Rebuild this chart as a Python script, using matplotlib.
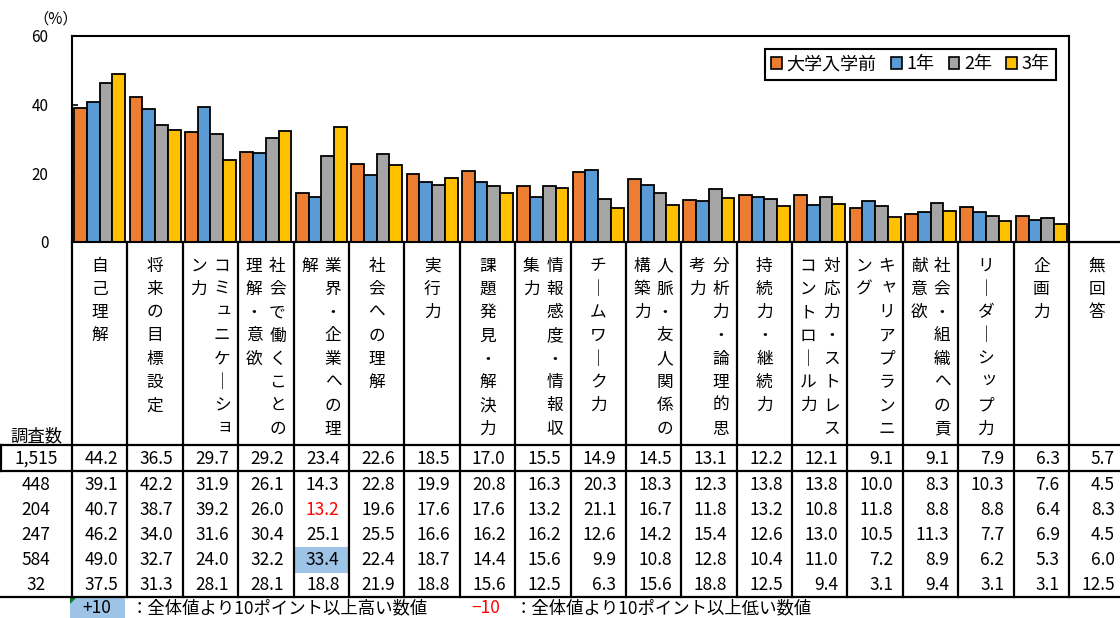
import matplotlib

matplotlib.use("Agg")
import matplotlib.pyplot as plt
import numpy as np
from matplotlib.patches import Patch, Rectangle
from matplotlib.transforms import blended_transform_factory

# category labels (the last one, 無回答, only appears in the table)
categories = [
    "自己理解", "将来の目標設定", "コミュニケーション力", "社会で働くことの理解・意欲",
    "業界・企業への理解", "社会への理解", "実行力", "課題発見・解決力",
    "情報感度・情報収集力", "チームワーク力", "人脈・友人関係の構築力",
    "分析力・論理的思考力", "持続力・継続力", "対応力・ストレスコントロール力",
    "キャリアプランニング", "社会・組織への貢献意欲", "リーダーシップ力", "企画力", "無回答",
]
series_names = ["大学入学前", "1年", "2年", "3年"]
counts = ["1,515", "448", "204", "247", "584", "32"]

total = [44.2, 36.5, 29.7, 29.2, 23.4, 22.6, 18.5, 17.0, 15.5, 14.9, 14.5, 13.1, 12.2, 12.1, 9.1, 9.1, 7.9, 6.3, 5.7]
pre = [39.1, 42.2, 31.9, 26.1, 14.3, 22.8, 19.9, 20.8, 16.3, 20.3, 18.3, 12.3, 13.8, 13.8, 10.0, 8.3, 10.3, 7.6, 4.5]
year1 = [40.7, 38.7, 39.2, 26.0, 13.2, 19.6, 17.6, 17.6, 13.2, 21.1, 16.7, 11.8, 13.2, 10.8, 11.8, 8.8, 8.8, 6.4, 8.3]
year2 = [46.2, 34.0, 31.6, 30.4, 25.1, 25.5, 16.6, 16.2, 16.2, 12.6, 14.2, 15.4, 12.6, 13.0, 10.5, 11.3, 7.7, 6.9, 4.5]
year3 = [49.0, 32.7, 24.0, 32.2, 33.4, 22.4, 18.7, 14.4, 15.6, 9.9, 10.8, 12.8, 10.4, 11.0, 7.2, 8.9, 6.2, 5.3, 6.0]
other = [37.5, 31.3, 28.1, 28.1, 18.8, 21.9, 18.8, 15.6, 12.5, 6.3, 15.6, 18.8, 12.5, 9.4, 3.1, 9.4, 3.1, 3.1, 12.5]

colors = ["#ED7D31", "#5B9BD5", "#A5A5A5", "#FFC000"]
hi_blue = "#9DC3E6"

plt.rcParams["font.family"] = ["Noto Sans CJK JP", "DejaVu Sans"]

W, H = 1120, 618
fig = plt.figure(figsize=(W / 100, H / 100), dpi=100)
ax = fig.add_axes([72 / W, 1 - 242 / H, 997 / W, 206 / H])

n_plot = 18
series = [pre, year1, year2, year3]
bw = 0.23
x = np.arange(n_plot)
for k, vals in enumerate(series):
    ax.bar(x + (k - 1.5) * bw, vals[:n_plot], width=bw, color=colors[k],
           edgecolor="black", linewidth=1.3, zorder=2)

ax.set_xlim(-0.5, n_plot - 0.5)
ax.set_ylim(0, 60)
ax.set_yticks([0, 20, 40, 60])
ax.set_xticks([])
ax.tick_params(axis="y", direction="in", length=4, width=1.2, labelsize=11, pad=17)
for sp in ax.spines.values():
    sp.set_linewidth(1.5)

handles = [Patch(facecolor=c, edgecolor="black", linewidth=1.2) for c in colors]
leg = ax.legend(handles, series_names, ncol=4, loc="upper right", bbox_to_anchor=(0.987, 0.937),
                borderaxespad=0, fontsize=13, handlelength=0.6, handleheight=0.6,
                handletextpad=0.25, columnspacing=0.8, fancybox=False, framealpha=1,
                borderpad=0.35)
leg.get_frame().set_edgecolor("black")
leg.get_frame().set_linewidth(1.5)

# pixel overlay for the table below the chart
grid = fig.add_axes([0, 0, 1, 1])
grid.set_xlim(0, W)
grid.set_ylim(H, 0)
grid.axis("off")
tr = blended_transform_factory(ax.transData, grid.transData)

grid.text(56, 19, "（%）", ha="center", va="center", fontsize=11)

lk = dict(color="black", linewidth=1.6, clip_on=False)
# column separators
for i in range(len(categories)):
    grid.plot([i - 0.5, i - 0.5], [242, 597], transform=tr, **lk)
grid.plot([1069, W], [242, 242], **lk)
for yy in (445, 471, 597):
    grid.plot([0, W], [yy, yy], **lk)
grid.plot([0.8, 0.8], [445, 471], **lk)

# vertical category labels, columns right to left, 8 chars each
small = set("ャュョッ")
for i, lab in enumerate(categories):
    lab = lab.replace("ー", "｜")
    cols = [lab[j:j + 8] for j in range(0, len(lab), 8)]
    offs = [0.0] if len(cols) == 1 else [0.21, -0.21]
    for c, txt in enumerate(cols):
        for j, ch in enumerate(txt):
            dx, dy = (0.04, -3) if ch in small else (0, 0)
            grid.text(i + offs[c] + dx, 266 + j * 23.3 + dy, ch, transform=tr,
                      ha="center", va="center", fontsize=12)

grid.text(36, 436, "調査数", ha="center", va="center", fontsize=12.5)

row_y = [459, 484.5, 510, 535, 560, 585]
rows = [total, pre, year1, year2, year3, other]
for r, (cnt, vals) in enumerate(zip(counts, rows)):
    grid.text(36, row_y[r], cnt, ha="center", va="center", fontsize=12.5)
    for i, v in enumerate(vals):
        col = "black"
        if r > 0:
            d = round(v - total[i], 1)
            if d >= 10:
                grid.add_patch(Rectangle((i - 0.5, row_y[r] - 12.7), 1, 25.4, transform=tr,
                                         facecolor=hi_blue, edgecolor="none", zorder=0))
            elif d <= -10:
                col = "#FF0000"
        grid.text(i + 0.33, row_y[r], f"{v:.1f}", transform=tr, ha="right", va="center",
                  fontsize=12.5, color=col)

# footer notes
grid.add_patch(Rectangle((70, 598), 55, 22, facecolor=hi_blue, edgecolor="none"))
grid.add_patch(plt.Polygon([[70, 598], [76, 598], [70, 604]], facecolor="#0B7A2A", edgecolor="none"))
grid.text(97, 608, "+10", ha="center", va="center", fontsize=12.5)
grid.text(131, 608, "：全体値より10ポイント以上高い数値", ha="left", va="center", fontsize=12.5)
grid.text(486, 608, "−10", ha="center", va="center", fontsize=12.5, color="#FF0000")
grid.text(515, 608, "：全体値より10ポイント以上低い数値", ha="left", va="center", fontsize=12.5)

fig.savefig("out.png", dpi=100)
